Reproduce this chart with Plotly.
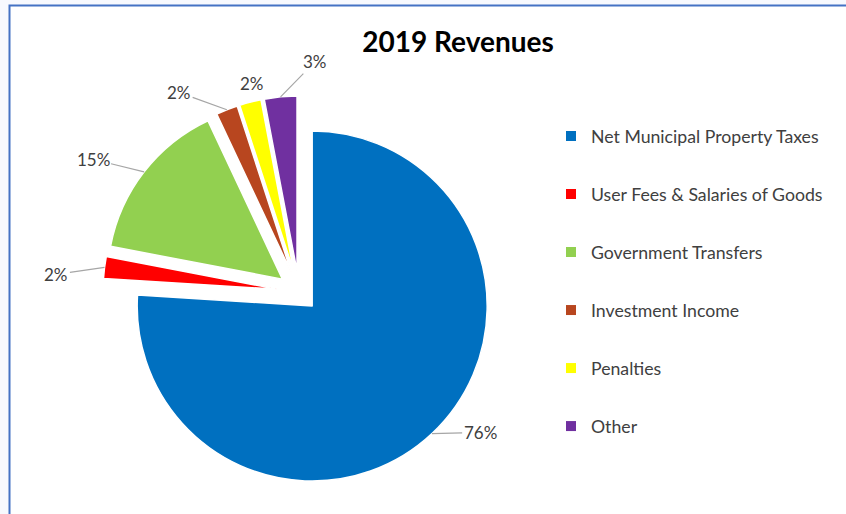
import math
import plotly.graph_objects as go

labels = ["Net Municipal Property Taxes", "User Fees & Salaries of Goods",
          "Government Transfers", "Investment Income", "Penalties", "Other"]
values = [76, 2, 15, 2, 2, 3]
colors = ["#0070C0", "#FF0000", "#92D050", "#B8461F", "#FFFF00", "#7030A0"]

# styling / placement settings
pulls = [0.11, 0.12, 0.12, 0.12, 0.12, 0.12]
label_dist = [1.31, 1.39, 1.40, 1.33, 1.22, 1.32]   # label distance in radii
label_shift = [-9, -3, -5, -9.4, 1.7, 9.4]          # label angle shift (deg)
label_line = [True, True, True, True, False, True]

W, H = 846, 514
CX, CY, R = 299, 292, 175           # pie centre / radius in pixels
maxpull = max(pulls)
half = R * (1 + maxpull)

fig = go.Figure()
fig.add_trace(go.Pie(
    labels=labels, values=values, sort=False, direction="clockwise", rotation=0,
    marker=dict(colors=colors, line=dict(color="white", width=1.5)),
    pull=pulls, textinfo="none",
    domain=dict(x=[(CX - half) / W, (CX + half) / W],
                y=[1 - (CY + half) / H, 1 - (CY - half) / H]),
    showlegend=False, hoverinfo="label+percent",
))

# legend proxies
for lab, col in zip(labels, colors):
    fig.add_trace(go.Scatter(
        x=[None], y=[None], mode="markers", name=lab, legendgroup=lab,
        marker=dict(symbol="square", size=10, color=col), showlegend=True,
    ))

# data labels with leader lines, positioned from slice angles
total = sum(values)
annotations = []
cum = 0
for i, v in enumerate(values):
    mid = 360.0 * (cum + v / 2) / total
    cum += v
    t = math.radians(mid)
    tipr = R * (1 + pulls[i])
    tx, ty = CX + tipr * math.sin(t), CY - tipr * math.cos(t)
    lt = math.radians(mid + label_shift[i])
    lr = R * label_dist[i]
    lx, ly = CX + lr * math.sin(lt), CY - lr * math.cos(lt)
    txt = f"{v}%"
    font = dict(family="Lato", size=17, color="#404040")
    if label_line[i]:
        annotations.append(dict(
            x=tx / W, y=1 - ty / H, xref="paper", yref="paper",
            ax=lx - tx, ay=ly - ty, text=txt, showarrow=True, arrowhead=0,
            arrowwidth=1.2, arrowcolor="#A6A6A6", standoff=0, font=font))
    else:
        annotations.append(dict(
            x=lx / W, y=1 - ly / H, xref="paper", yref="paper",
            xanchor="center", yanchor="middle",
            text=txt, showarrow=False, font=font))

fig.update_layout(
    width=W, height=H,
    margin=dict(l=0, r=0, t=0, b=0, autoexpand=False),
    paper_bgcolor="#F7F9FE", plot_bgcolor="rgba(0,0,0,0)",
    xaxis=dict(visible=False), yaxis=dict(visible=False),
    title=dict(text="<b>2019 Revenues</b>", x=458 / W, xanchor="center",
               y=1 - 42 / H, yanchor="middle",
               font=dict(family="Lato", size=28, color="#000000")),
    legend=dict(x=551 / W, xanchor="left", y=1 - 118 / H, yanchor="top",
                tracegroupgap=32, bgcolor="rgba(0,0,0,0)",
                font=dict(family="Lato", size=17.7, color="#404040")),
    annotations=annotations,
    shapes=[dict(type="rect", xref="paper", yref="paper",
                 x0=9.5 / W, x1=1.02, y0=-0.02, y1=1 - 5.5 / H,
                 line=dict(color="#4472C4", width=2), fillcolor="white",
                 layer="below")],
)

fig.write_html("out.html", config={"displayModeBar": False},
               post_script="document.body.style.margin='0';")
